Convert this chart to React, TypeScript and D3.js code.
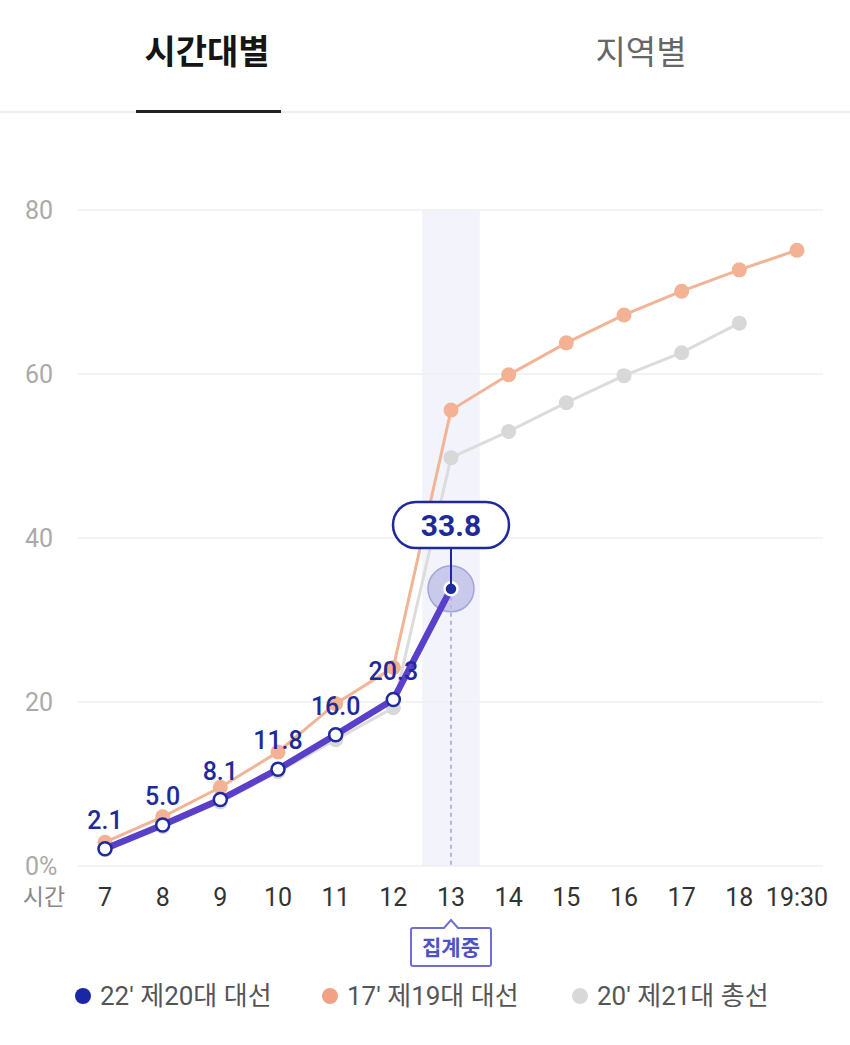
import React, { useEffect } from 'react';
import * as d3 from 'd3';

const hours = ['7', '8', '9', '10', '11', '12', '13', '14', '15', '16', '17', '18', '19:30'];
const yTicks = [0, 20, 40, 60, 80];

// 22' 제20대 대선 (집계중)
const turnout2022 = [2.1, 5.0, 8.1, 11.8, 16.0, 20.3, 33.8];
// 17' 제19대 대선
const turnout2017 = [2.9, 6.0, 9.6, 13.9, 19.8, 24.2, 55.6, 59.9, 63.8, 67.2, 70.1, 72.7, 75.1];
// 20' 제21대 총선
const turnout2020 = [2.0, 4.8, 7.8, 11.5, 15.4, 19.3, 49.8, 53.0, 56.5, 59.8, 62.6, 66.2];

const legendItems = [
  { label: "22' 제20대 대선", color: '#1a26a8' },
  { label: "17' 제19대 대선", color: '#f0a282' },
  { label: "20' 제21대 총선", color: '#d8d8d8' },
];

const FONT = "Roboto, 'Noto Sans CJK KR', 'Noto Sans', sans-serif";

const App: React.FC = () => {
  useEffect(() => {
    document.body.style.margin = '0';
  }, []);

  const x = d3.scalePoint<string>().domain(hours).range([105, 797]);
  const y = d3.scaleLinear().domain([0, 80]).range([866, 210]);

  const line = d3.line<number>()
    .x((d, i) => x(hours[i])!)
    .y(d => y(d));

  const cur = turnout2022.length - 1;
  const curX = x(hours[cur])!;
  const curY = y(turnout2022[cur]);
  const step = x.step();

  return (
    <svg width={850} height={1045} style={{ display: 'block', background: '#fff', fontFamily: FONT }}>
      {/* tabs */}
      <text x={207} y={64} textAnchor="middle" fontSize={34} fontWeight={700} fill="#151515">시간대별</text>
      <text x={641} y={64} textAnchor="middle" fontSize={33} fill="#666">지역별</text>
      <line x1={0} x2={850} y1={112} y2={112} stroke="#ececec" strokeWidth={2} />
      <rect x={136} y={110} width={145} height={3} fill="#222" />

      {/* highlight band */}
      <rect x={curX - step / 2} y={y(80)} width={step} height={y(0) - y(80)} fill="#f3f3fb" />

      {/* grid + y labels */}
      {yTicks.map(t => (
        <g key={t}>
          <line x1={78} x2={823} y1={y(t)} y2={y(t)} stroke="#efefef" strokeWidth={1.5} />
          <text x={25} y={y(t)} dy="0.36em" fontSize={25} fill="#aaa">{t === 0 ? '0%' : t}</text>
        </g>
      ))}

      {/* x labels */}
      <text x={44} y={897} dy="0.36em" textAnchor="middle" fontSize={23} fill="#888">시간</text>
      {hours.map(h => (
        <text key={h} x={x(h)!} y={897} dy="0.36em" textAnchor="middle" fontSize={25} fill="#333">{h}</text>
      ))}

      {/* dashed guide */}
      <line x1={curX} x2={curX} y1={curY} y2={866} stroke="#a89be0" strokeWidth={1.5} strokeDasharray="4,4" />

      {/* 20' line */}
      <path d={line(turnout2020) || ''} fill="none" stroke="#dcdcdc" strokeWidth={3} />
      {turnout2020.map((v, i) => (
        <circle key={'g' + i} cx={x(hours[i])!} cy={y(v)} r={7.5} fill="#d8d8d8" />
      ))}

      {/* 17' line */}
      <path d={line(turnout2017) || ''} fill="none" stroke="#f2b496" strokeWidth={3} />
      {turnout2017.map((v, i) => (
        <circle key={'o' + i} cx={x(hours[i])!} cy={y(v)} r={7.5} fill="#f2b293" />
      ))}

      {/* halo */}
      <circle cx={curX} cy={curY} r={23} fill="#b9bbe6" fillOpacity={0.75} stroke="#a3a6dc" strokeWidth={1.5} />

      {/* 22' line */}
      <path d={line(turnout2022) || ''} fill="none" stroke="#5a3fc8" strokeWidth={6.5} strokeLinejoin="round" />
      {turnout2022.slice(0, cur).map((v, i) => (
        <g key={'b' + i}>
          <circle cx={x(hours[i])!} cy={y(v)} r={6.5} fill="#fff" stroke="#1f2a9e" strokeWidth={2.5} />
          <text x={x(hours[i])!} y={y(v) - 20} textAnchor="middle" fontSize={25} fontWeight={500} fill="#1f2a9a">{v.toFixed(1)}</text>
        </g>
      ))}
      <circle cx={curX} cy={curY} r={6.5} fill="#1f2a9e" stroke="#fff" strokeWidth={2.5} />

      {/* tooltip */}
      <line x1={curX} x2={curX} y1={548} y2={curY} stroke="#1f2a9a" strokeWidth={2} />
      <rect x={curX - 58} y={502} width={116} height={46} rx={23} fill="#fff" stroke="#1f2a9a" strokeWidth={2.5} />
      <text x={curX} y={525} dy="0.36em" textAnchor="middle" fontSize={30} fontWeight={700} fill="#1f2a9a">{turnout2022[cur].toFixed(1)}</text>

      {/* 집계중 badge */}
      <path
        d={`M${curX - 38},${928} H${curX - 7} L${curX},${920} L${curX + 7},${928} H${curX + 38} Q${curX + 40},${928} ${curX + 40},${930} V${964} Q${curX + 40},${966} ${curX + 38},${966} H${curX - 38} Q${curX - 40},${966} ${curX - 40},${964} V${930} Q${curX - 40},${928} ${curX - 38},${928} Z`}
        fill="#fff" stroke="#6d6fd2" strokeWidth={2}
      />
      <text x={curX} y={947} dy="0.36em" textAnchor="middle" fontSize={21} fontWeight={700} fill="#4f52c4">집계중</text>

      {/* legend */}
      {legendItems.map((it, i) => {
        const lx = [83, 330, 580][i];
        return (
          <g key={it.label}>
            <circle cx={lx} cy={996} r={8} fill={it.color} />
            <text x={lx + 17} y={996} dy="0.36em" fontSize={26} fill="#555">{it.label}</text>
          </g>
        );
      })}
    </svg>
  );
};

export default App;
